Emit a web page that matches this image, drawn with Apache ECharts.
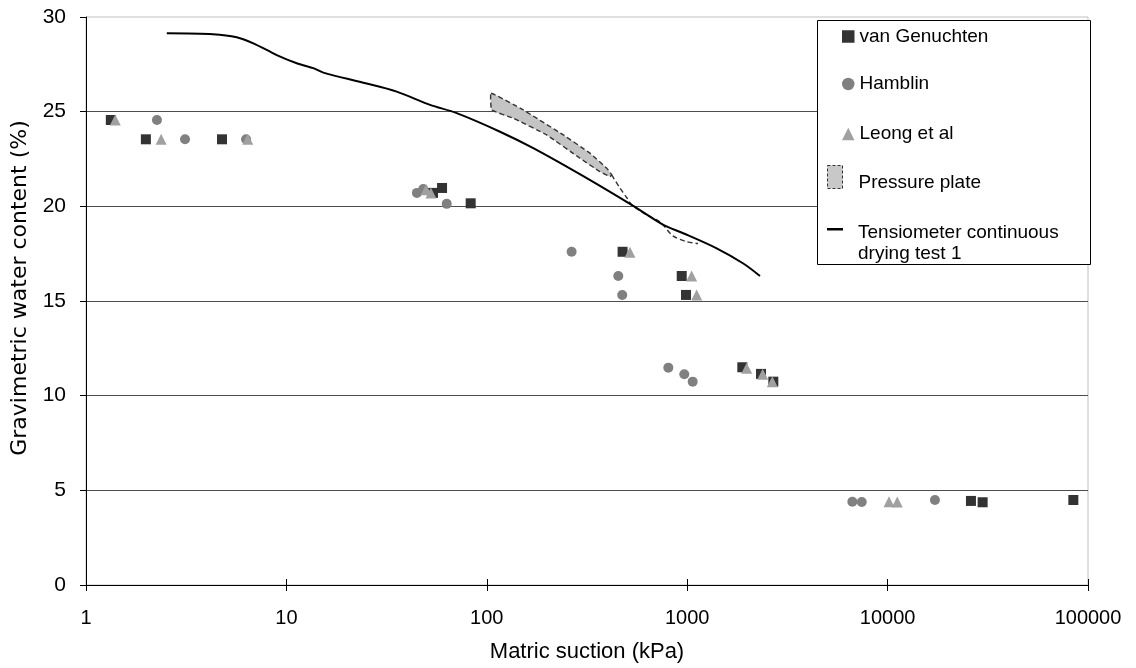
<!DOCTYPE html>
<html>
<head>
<meta charset="utf-8">
<script src="https://cdn.jsdelivr.net/npm/echarts@6/dist/echarts.min.js"></script>
<style>html,body{margin:0;padding:0;background:#fff}#c{width:1136px;height:668px}</style>
</head>
<body>
<div id="c"></div>
<script>
// ---- data ----
const yTicks = [0, 5, 10, 15, 20, 25, 30];
const xTicks = [1, 10, 100, 1000, 10000, 100000];

const vgX = [1.33, 1.99, 4.77, 53.9, 59.8, 83.1, 476, 939, 986, 1884, 2335, 2690, 26060, 29800, 84500];
const vgY = [24.56, 23.54, 23.54, 20.71, 20.97, 20.16, 17.6, 16.32, 15.32, 11.5, 11.15, 10.74, 4.44, 4.37, 4.49];

const hamX = [2.26, 3.12, 6.29, 44.8, 48.2, 63.1, 265, 453, 474, 805, 967, 1065, 6670, 7430, 17230];
const hamY = [24.56, 23.54, 23.54, 20.71, 20.92, 20.13, 17.6, 16.32, 15.32, 11.48, 11.13, 10.74, 4.40, 4.38, 4.49];

const leoX = [1.40, 2.37, 6.41, 49.8, 52.6, 518, 1052, 1115, 1981, 2381, 2659, 10160, 11170];
const leoY = [24.56, 23.54, 23.54, 20.87, 20.71, 17.57, 16.32, 15.32, 11.45, 11.13, 10.74, 4.40, 4.38];

const tenX = [2.53, 4.30, 5.65, 6.84, 8.95, 11.26, 13.62, 15.28, 24.2, 35.5, 52.1, 70.8, 116.4, 170.6, 303, 538, 760, 955, 1403, 1905, 2308];
const tenY = [29.14, 29.09, 28.93, 28.61, 27.99, 27.56, 27.30, 27.06, 26.53, 26.06, 25.36, 24.92, 23.94, 23.07, 21.59, 20.02, 19.02, 18.58, 17.78, 16.98, 16.32];

// pressure plate band (closed outline: upper edge then lower edge back)
const ppX = [105, 152, 241, 327, 397, 420, 412, 367, 292, 199, 135.6, 105.8];
const ppY = [25.97, 25.09, 23.77, 22.81, 22.01, 21.66, 21.57, 21.83, 22.54, 23.77, 24.65, 25.09];
// pressure plate dashed continuation
const pdX = [420, 462, 501, 530, 615, 731, 849, 997, 1132];
const pdY = [21.66, 20.96, 20.44, 20.07, 19.6, 19.18, 18.44, 18.13, 18.04];

const names = ['van Genuchten', 'Hamblin', 'Leong et al', 'Pressure plate', 'Tensiometer continuous\ndrying test 1'];

const zip = (a, b) => a.map((v, i) => [v, b[i]]);
const FONT = 'Liberation Sans, Arial, sans-serif';

const chart = echarts.init(document.getElementById('c'), null, {renderer: 'canvas'});

const legendBase = {
  orient: 'vertical', padding: 0, itemGap: 0, symbolKeepAspect: true,
  textStyle: {fontFamily: FONT, fontSize: 19, color: '#000'},
  selectedMode: false
};

const option = {
  animation: false,
  backgroundColor: '#fff',
  textStyle: {fontFamily: FONT},
  grid: {left: 86, right: 48, top: 17, bottom: 83, show: true, borderColor: '#c0c0c0', borderWidth: 1},
  xAxis: [{
    type: 'log', logBase: 10, min: xTicks[0], max: xTicks[xTicks.length - 1],
    name: 'Matric suction (kPa)', nameLocation: 'middle', nameGap: 56,
    nameTextStyle: {fontSize: 22, color: '#000', fontFamily: FONT},
    axisLine: {show: true, lineStyle: {color: '#000', width: 1}},
    axisTick: {show: true, length: 6, lineStyle: {color: '#000'}},
    axisLabel: {fontSize: 20, color: '#000', margin: 23, fontFamily: FONT,
      formatter: v => String(Math.round(v))},
    splitLine: {show: false},
    minorTick: {show: false}
  }, {
    type: 'log', logBase: 10, min: xTicks[0], max: xTicks[xTicks.length - 1], position: 'bottom', offset: 0,
    axisLine: {show: true, lineStyle: {color: '#000', width: 1}},
    axisTick: {show: true, inside: true, length: 6, lineStyle: {color: '#000'}},
    axisLabel: {show: false}, splitLine: {show: false}
  }],
  yAxis: {
    type: 'value', min: yTicks[0], max: yTicks[yTicks.length - 1], interval: 5,
    name: 'Gravimetric water content (%)', nameLocation: 'middle', nameGap: 46,
    nameTextStyle: {fontSize: 22, color: '#000', fontFamily: 'DejaVu Sans, sans-serif', padding: [0, 0, 0, 26]},
    axisLine: {show: true, lineStyle: {color: '#000', width: 1}},
    axisTick: {show: true, length: 6, lineStyle: {color: '#000'}},
    axisLabel: {fontSize: 21, color: '#000', margin: 20, fontFamily: FONT},
    splitLine: {show: true, showMinLine: false, showMaxLine: false, lineStyle: {color: '#4d4d4d', width: 1}}
  },
  graphic: [{
    type: 'rect', z: 3, silent: true,
    shape: {x: 817.5, y: 20.5, width: 273, height: 244},
    style: {fill: '#fff', stroke: '#000', lineWidth: 1}
  }],
  legend: [
    Object.assign({}, legendBase, {left: 842, top: 27, itemWidth: 12.5, itemHeight: 12.5,
      data: [{name: names[0], icon: 'rect'}]}),
    Object.assign({}, legendBase, {left: 842, top: 74.5, itemWidth: 12.5, itemHeight: 12.5,
      data: [{name: names[1], icon: 'circle'}]}),
    Object.assign({}, legendBase, {left: 842, top: 124.5, itemWidth: 12.5, itemHeight: 12.5,
      data: [{name: names[2], icon: 'triangle'}]}),
    Object.assign({}, legendBase, {left: 827, top: 165, itemWidth: 15, itemHeight: 34,
      textStyle: {fontFamily: FONT, fontSize: 19, color: '#000', padding: [0, 0, 0, 11]},
      data: [{name: names[3], icon: 'path://M0,0h15v23h-15zM0,34',
        itemStyle: {color: '#c8c8c8', borderColor: '#333', borderWidth: 1, borderType: [3, 2]}}]}),
    Object.assign({}, legendBase, {left: 827, top: 222, itemWidth: 16, itemHeight: 30,
      textStyle: {fontFamily: FONT, fontSize: 19, color: '#000', lineHeight: 21, padding: [0, 0, 0, 10]},
      data: [{name: names[4], icon: 'path://M0,0h16v2.5h-16zM0,30', itemStyle: {color: '#000'}}]})
  ],
  series: [
    {
      name: names[3], type: 'custom', z: 1,
      data: zip(ppX, ppY),
      renderItem: function (params, api) {
        if (params.dataIndex !== 0) return null;
        const pts = ppX.map((x, i) => api.coord([x, ppY[i]]));
        return {
          type: 'polygon',
          shape: {points: pts, smooth: 0.1},
          style: {fill: '#c4c4c4', stroke: '#333', lineWidth: 1.4, lineDash: [5, 3]}
        };
      },
      itemStyle: {color: '#c4c4c4'}
    },
    {
      name: names[3], type: 'line', z: 1, smooth: 0.3, showSymbol: false, symbol: 'none',
      data: zip(pdX, pdY),
      lineStyle: {color: '#333', width: 1.4, type: [5, 3]}
    },
    {
      name: names[4], type: 'line', z: 2, smooth: 0.3, showSymbol: false, symbol: 'none',
      data: zip(tenX, tenY),
      lineStyle: {color: '#000', width: 2},
      itemStyle: {color: '#000'}
    },
    {
      name: names[0], type: 'scatter', symbol: 'rect', symbolSize: 10, z: 3,
      data: zip(vgX, vgY), itemStyle: {color: '#333333', opacity: 1}
    },
    {
      name: names[1], type: 'scatter', symbol: 'circle', symbolSize: 10, z: 3,
      data: zip(hamX, hamY), itemStyle: {color: '#808080', opacity: 1}
    },
    {
      name: names[2], type: 'scatter', symbol: 'triangle', symbolSize: 11, z: 3,
      data: zip(leoX, leoY), itemStyle: {color: '#a0a0a0', opacity: 1}
    }
  ]
};
chart.setOption(option);
</script>
</body>
</html>
